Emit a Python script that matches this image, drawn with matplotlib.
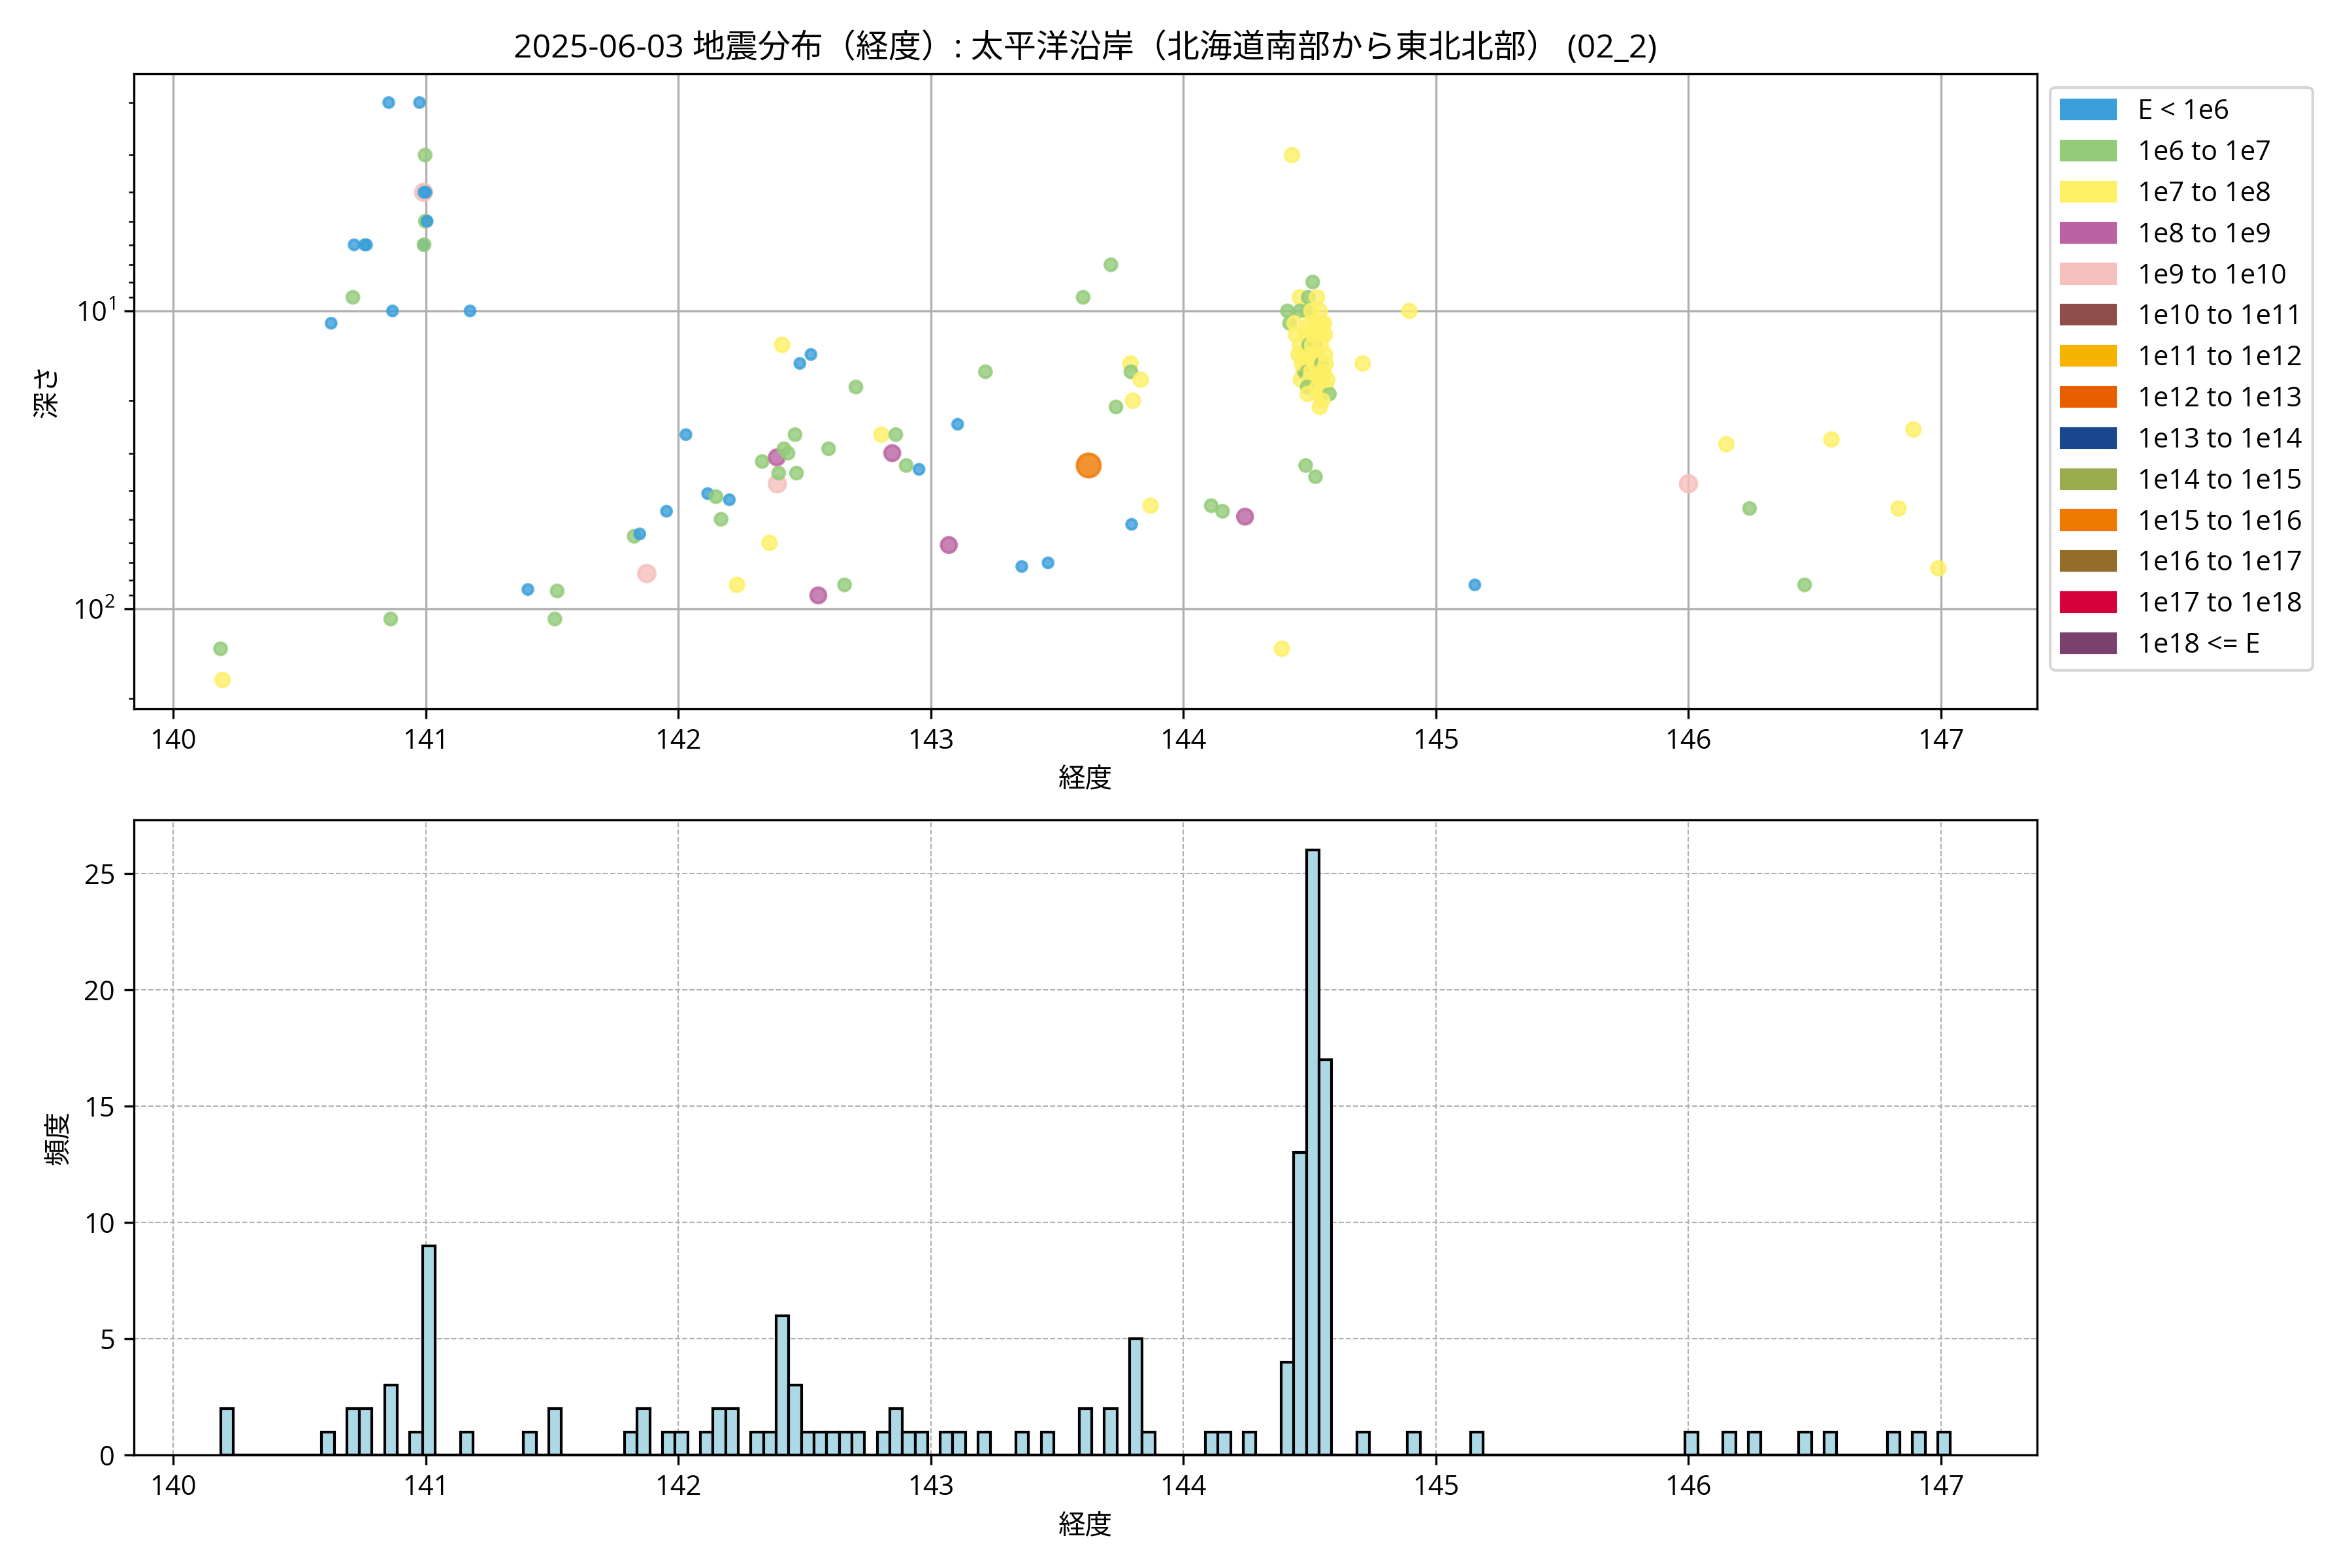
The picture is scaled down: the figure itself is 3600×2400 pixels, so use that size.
import numpy as np
import matplotlib
matplotlib.use("Agg")
import matplotlib.pyplot as plt
from matplotlib.patches import Patch

plt.rcParams['font.family'] = ['Open Sans', 'Noto Sans CJK JP', 'DejaVu Sans']
plt.rcParams['axes.unicode_minus'] = False

# Classes d'énergie (légende) et couleurs
classes = ["E < 1e6", "1e6 to 1e7", "1e7 to 1e8", "1e8 to 1e9", "1e9 to 1e10",
           "1e10 to 1e11", "1e11 to 1e12", "1e12 to 1e13", "1e13 to 1e14",
           "1e14 to 1e15", "1e15 to 1e16", "1e16 to 1e17", "1e17 to 1e18", "1e18 <= E"]
couleurs = ["#3a9fdb", "#93cb78", "#fef065", "#bb63a2", "#f5c0bc",
            "#8f4e4a", "#f6b400", "#e95f00", "#1a468d",
            "#9aab4e", "#ef7800", "#946d2b", "#d6003a", "#7a416f"]

# Séismes : longitude, profondeur (km), classe d'énergie
longitude = [
    140.187, 140.195, 140.625, 140.711, 140.716, 140.758, 140.765, 140.853, 140.868, 140.861,
    140.975, 140.997, 140.991, 140.992, 141.003, 140.998, 140.991, 140.993, 141.000, 141.005,
    141.175, 141.404, 141.511, 141.520, 141.825, 141.847, 141.875, 141.953, 142.030, 142.116,
    142.149, 142.169, 142.202, 142.232, 142.332, 142.361, 142.390, 142.392, 142.397, 142.411,
    142.418, 142.434, 142.462, 142.468, 142.481, 142.525, 142.554, 142.595, 142.658, 142.703,
    142.804, 142.847, 142.861, 142.902, 142.953, 143.071, 143.106, 143.216, 143.360, 143.464,
    143.603, 143.625, 143.713, 143.733, 143.790, 143.792, 143.795, 143.800, 143.831, 143.870,
    144.110, 144.155, 144.244,
    144.390, 144.412, 144.420, 144.430,
    144.461, 144.461, 144.440, 144.445, 144.484, 144.461, 144.475, 144.475, 144.465, 144.484,
    144.480, 144.470, 144.455,
    144.512, 144.494, 144.529, 144.490, 144.506, 144.520, 144.497, 144.496, 144.523, 144.527,
    144.490, 144.506, 144.490, 144.510, 144.500, 144.490, 144.492, 144.523, 144.500, 144.515,
    144.505, 144.520, 144.510, 144.530, 144.500, 144.535,
    144.547, 144.557, 144.547, 144.547, 144.564, 144.547, 144.551, 144.564, 144.578, 144.540,
    144.545, 144.560, 144.555, 144.570, 144.540, 144.550, 144.560,
    144.710, 144.895, 145.154, 146.000, 146.150, 146.242, 146.460, 146.566, 146.832, 146.891,
    146.990,
]
profondeur = [
    136, 173, 11, 9, 6, 6, 6, 2, 10, 108,
    2, 3, 4, 4, 5, 5, 6, 6, 4, 5,
    10, 86, 108, 87, 57, 56, 76, 47, 26, 41,
    42, 50, 43, 83, 32, 60, 31, 38, 35, 13,
    29, 30, 26, 35, 15, 14, 90, 29, 83, 18,
    26, 30, 26, 33, 34, 61, 24, 16, 72, 70,
    9, 33, 7, 21, 15, 16, 52, 20, 17, 45,
    45, 47, 49,
    136, 10, 11, 3,
    9, 10, 11, 12, 12, 13, 14, 16, 17, 33,
    16, 15, 14,
    8, 9, 9, 10, 10, 11, 12, 13, 13, 14,
    15, 15, 16, 17, 17, 18, 19, 36, 14, 12,
    16, 15, 13, 18, 11, 19,
    11, 11, 12, 15, 15, 16, 17, 18, 19, 21,
    13, 14, 16, 17, 10, 20, 12,
    15, 10, 83, 38, 28, 46, 83, 27, 46, 25,
    73,
]
classe = [
    1, 2, 0, 1, 0, 0, 0, 0, 0, 1,
    0, 1, 4, 0, 0, 1, 0, 1, 0, 0,
    0, 0, 1, 1, 1, 0, 4, 0, 0, 0,
    1, 1, 0, 2, 1, 2, 3, 4, 1, 2,
    1, 1, 1, 1, 0, 0, 3, 1, 1, 1,
    2, 3, 1, 1, 0, 3, 0, 1, 0, 0,
    1, 10, 1, 1, 2, 1, 0, 2, 2, 2,
    1, 1, 3,
    2, 1, 1, 2,
    2, 1, 2, 2, 2, 2, 2, 2, 2, 1,
    1, 2, 2,
    1, 1, 2, 1, 2, 2, 2, 1, 1, 2,
    2, 2, 1, 4, 2, 1, 2, 1, 2, 2,
    2, 2, 2, 2, 2, 2,
    2, 2, 2, 1, 2, 2, 2, 2, 1, 2,
    2, 2, 2, 2, 2, 2, 2,
    2, 2, 0, 4, 2, 1, 1, 2, 2, 2,
    2,
]

lon = np.array(longitude)
dep = np.array(profondeur)
cls = np.array(classe)

fig, (ax1, ax2) = plt.subplots(2, 1)
fig.set_size_inches(12, 8)
fig.subplots_adjust(left=0.057, right=0.866, top=0.953, bottom=0.072, hspace=0.175)

# Distribution en profondeur
c = [couleurs[k] for k in cls]
taille = 14 + 6 * cls
ax1.scatter(lon, dep, c=c, s=taille, alpha=0.8, edgecolors=c, linewidths=1.0, zorder=3)
ax1.set_yscale('log')
ax1.invert_yaxis()
ax1.grid(True, zorder=0)
ax1.set_xlabel('経度')
ax1.set_ylabel('深さ')
ax1.set_title('2025-06-03 地震分布（経度）: 太平洋沿岸（北海道南部から東北北部） (02_2)')
poignees = [Patch(color=couleurs[i], label=classes[i]) for i in range(len(classes))]
ax1.legend(handles=poignees, loc='upper left', bbox_to_anchor=(1.0, 1.0))

# Histogramme des longitudes
bins = np.arange(lon.min(), lon.max() + 0.05, 0.05)
ax2.hist(lon, bins=bins, color='lightblue', edgecolor='black', linewidth=1.0)
ax2.set_xlabel('経度')
ax2.set_ylabel('頻度')
ax2.grid(True, linestyle='--', linewidth=0.5)
ax2.set_axisbelow(True)

ax1.set_xlim(ax2.get_xlim())

plt.savefig('out.png', dpi=300)
